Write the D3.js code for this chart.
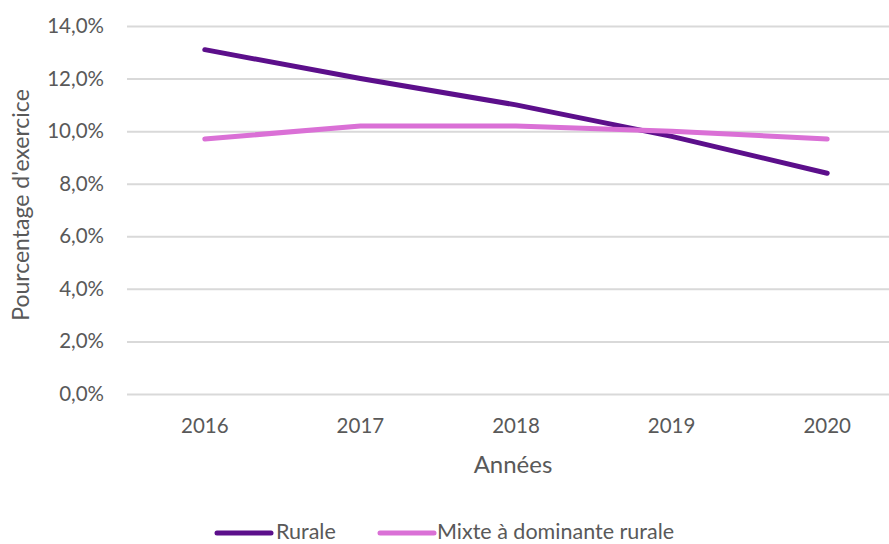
<!DOCTYPE html>
<html><head><meta charset="utf-8">
<script src="https://cdn.jsdelivr.net/npm/d3@7"></script>
<style>body{margin:0;background:#fff;} text{font-family:Lato,"Open Sans",sans-serif;fill:#595959;}</style>
</head><body>
<svg id="c" width="889" height="544"></svg>
<script>
const years = ["2016","2017","2018","2019","2020"];
const rurale = [13.1, 12.0, 11.0, 9.8, 8.4];
const mixte = [9.7, 10.2, 10.2, 10.0, 9.7];
const yTicks = [0,2,4,6,8,10,12,14];
const seriesNames = ["Rurale","Mixte à dominante rurale"];
const colors = ["#5c0f8b","#da70d6"];

const svg = d3.select("#c");
const x = d3.scaleBand().domain(years).range([127, 905]);
const y = d3.scaleLinear().domain([0,14]).range([394, 26]);

const fmt = d => d.toFixed(1).replace(".", ",") + "%";
const yAxis = svg.append("g").attr("transform","translate(127,0)")
  .call(d3.axisLeft(y).tickValues(yTicks).tickSize(-780).tickFormat(fmt));
yAxis.select(".domain").remove();
yAxis.selectAll(".tick line").attr("stroke","#d9d9d9").attr("stroke-width",2);
yAxis.selectAll(".tick text").attr("x",-23).style("font-size","20.5px").attr("fill","#595959");

const xAxis = svg.append("g").attr("transform","translate(0,394)")
  .call(d3.axisBottom(x).tickSize(0));
xAxis.select(".domain").remove();
xAxis.selectAll(".tick text").attr("dy","0").attr("y",39).style("font-size","20.5px").attr("fill","#595959");

const line = d3.line().x((d,i)=>x(years[i])+x.bandwidth()/2).y(d=>y(d));
[rurale, mixte].forEach((s,k)=>{
  svg.append("path").datum(s).attr("d",line).attr("fill","none")
    .attr("stroke",colors[k]).attr("stroke-width",5).attr("stroke-linecap","round").attr("stroke-linejoin","round");
});

svg.append("text").attr("x",513).attr("y",473).attr("text-anchor","middle").style("font-size","24px").text("Années");
svg.append("text").attr("transform","translate(29,205) rotate(-90)").attr("text-anchor","middle").style("font-size","23px").text("Pourcentage d'exercice");

const leg = [{x1:217,x2:271,tx:276},{x1:380,x2:434,tx:437}];
seriesNames.forEach((n,k)=>{
  svg.append("line").attr("x1",leg[k].x1).attr("x2",leg[k].x2).attr("y1",533).attr("y2",533)
    .attr("stroke",colors[k]).attr("stroke-width",5).attr("stroke-linecap","round");
  svg.append("text").attr("x",leg[k].tx).attr("y",539).style("font-size","21.5px").text(n);
});
</script></body></html>
